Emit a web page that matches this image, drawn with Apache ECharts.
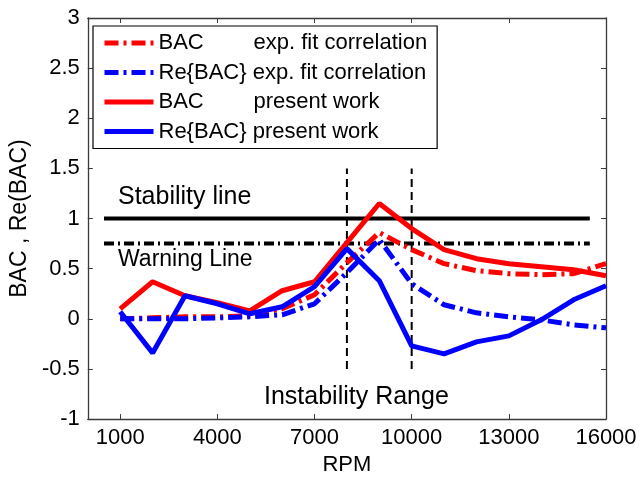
<!DOCTYPE html>
<html>
<head>
<meta charset="utf-8">
<script src="https://cdn.jsdelivr.net/npm/echarts@6/dist/echarts.min.js"></script>
<style>
html,body{margin:0;padding:0;background:#fff;}
#chart{width:641px;height:481px;}
</style>
</head>
<body>
<div id="chart"></div>
<script>
// ---- data ----
const rpm = [1000,2000,3000,4000,5000,6000,7000,8000,9000,10000,11000,12000,13000,14000,15000,16000];
const bacExpFit   = [0.00, 0.01, 0.02, 0.02, 0.03, 0.10, 0.24, 0.56, 0.86, 0.69, 0.55, 0.48, 0.45, 0.44, 0.45, 0.55];
const reBacExpFit = [0.00, 0.00, 0.00, 0.01, 0.02, 0.04, 0.15, 0.46, 0.79, 0.35, 0.14, 0.06, 0.02, -0.01, -0.06, -0.09];
const bacPresent  = [0.10, 0.37, 0.23, 0.16, 0.08, 0.28, 0.37, 0.76, 1.15, 0.90, 0.69, 0.60, 0.55, 0.52, 0.49, 0.43];
const reBacPresent= [0.07, -0.34, 0.23, 0.15, 0.05, 0.12, 0.32, 0.70, 0.38, -0.27, -0.35, -0.23, -0.17, -0.01, 0.19, 0.33];
const xTicks = [1000, 4000, 7000, 10000, 13000, 16000];
const stabilityX = [500, 15500];
const stabilityY = 1;
const warningY = 0.75;
const instabilityX = [8000, 10000];
const instabilityYRange = [-0.5, 1.5];
const seriesNames = ['BAC|exp. fit correlation', 'Re{BAC}|exp. fit correlation', 'BAC|present work', 'Re{BAC}|present work'];

const FONT = "'Liberation Sans', Arial, sans-serif";
const pairs = (ys) => rpm.map((x, i) => [x, ys[i]]);

// rich text cannot hold '}' inside a segment, so close braces are emitted as plain text
function legendLabel(name) {
  const p = name.split('|');
  const head = p[0];
  if (head.indexOf('}') >= 0) {
    const inner = head.slice(0, head.lastIndexOf('}'));
    return '{n|' + inner + '}' + '} ' + '{b|' + p[1] + '}';
  }
  return '{a|' + head + '}{b|' + p[1] + '}';
}

const chart = echarts.init(document.getElementById('chart'), null, {renderer: 'canvas'});
const axisColor = '#3a3a3a';
const dashDot = [14, 5, 3, 5];

chart.setOption({
  animation: false,
  backgroundColor: '#ffffff',
  grid: {left: 85, right: 35, top: 18, bottom: 57, containLabel: false},
  xAxis: [{
    type: 'value', min: 0, max: 16000, position: 'bottom',
    name: 'RPM', nameLocation: 'middle', nameGap: 33,
    nameTextStyle: {fontFamily: FONT, fontSize: 22, color: '#000'},
    axisLine: {show: true, onZero: false, lineStyle: {color: axisColor, width: 1.3}},
    axisTick: {inside: true, length: 5, customValues: xTicks, lineStyle: {color: axisColor}},
    axisLabel: {customValues: xTicks, formatter: (v) => String(v), fontFamily: FONT, fontSize: 22, color: '#000', margin: 8},
    splitLine: {show: false}
  }, {
    type: 'value', min: 0, max: 16000, position: 'top',
    axisLine: {show: true, onZero: false, lineStyle: {color: axisColor, width: 1.3}},
    axisTick: {inside: true, length: 5, customValues: xTicks, lineStyle: {color: axisColor}},
    axisLabel: {show: false},
    splitLine: {show: false}
  }],
  yAxis: [{
    type: 'value', min: -1, max: 3, interval: 0.5, position: 'left',
    name: 'BAC , Re(BAC)', nameLocation: 'middle', nameGap: 48,
    nameTextStyle: {fontFamily: FONT, fontSize: 23, color: '#000'},
    axisLine: {show: true, onZero: false, lineStyle: {color: axisColor, width: 1.3}},
    axisTick: {show: true, inside: true, length: 5, lineStyle: {color: axisColor}},
    axisLabel: {fontFamily: FONT, fontSize: 22, color: '#000', margin: 8},
    splitLine: {show: false}
  }, {
    type: 'value', min: -1, max: 3, interval: 0.5, position: 'right',
    axisLine: {show: true, onZero: false, lineStyle: {color: axisColor, width: 1.3}},
    axisTick: {show: true, inside: true, length: 5, lineStyle: {color: axisColor}},
    axisLabel: {show: false},
    splitLine: {show: false}
  }],
  legend: {
    data: seriesNames,
    orient: 'vertical',
    left: 93, top: 26,
    padding: [6, 10, 6, 9],
    itemGap: 7.5,
    itemWidth: 49, itemHeight: 22,
    borderColor: '#000', borderWidth: 1.2,
    backgroundColor: '#fff',
    selectedMode: false,
    itemStyle: {opacity: 0},
    lineStyle: {width: 5, cap: 'butt'},
    formatter: legendLabel,
    textStyle: {
      fontFamily: FONT, fontSize: 22, color: '#000',
      rich: {
        a: {width: 95, fontFamily: FONT, fontSize: 22, color: '#000'},
        n: {fontFamily: FONT, fontSize: 22, color: '#000'},
        b: {fontFamily: FONT, fontSize: 22, color: '#000'}
      }
    }
  },
  series: [
    {name: seriesNames[0], type: 'line', data: pairs(bacExpFit), symbol: 'none', z: 3,
      lineStyle: {color: '#ff0000', width: 5, type: dashDot, cap: 'butt'}, itemStyle: {color: '#ff0000'}},
    {name: seriesNames[1], type: 'line', data: pairs(reBacExpFit), symbol: 'none', z: 4,
      lineStyle: {color: '#0000ff', width: 5, type: dashDot, cap: 'butt'}, itemStyle: {color: '#0000ff'}},
    {name: seriesNames[2], type: 'line', data: pairs(bacPresent), symbol: 'none', z: 5,
      lineStyle: {color: '#ff0000', width: 5}, itemStyle: {color: '#ff0000'}},
    {name: seriesNames[3], type: 'line', data: pairs(reBacPresent), symbol: 'none', z: 6,
      lineStyle: {color: '#0000ff', width: 5}, itemStyle: {color: '#0000ff'}},
    {name: 'Stability line', type: 'line', symbol: 'none', z: 2,
      data: stabilityX.map(x => [x, stabilityY]),
      lineStyle: {color: '#000', width: 4}},
    {name: 'Warning Line', type: 'line', symbol: 'none', z: 2,
      data: stabilityX.map(x => [x, warningY]),
      lineStyle: {color: '#000', width: 4, type: [10, 4, 2, 4], cap: 'butt'}},
    {name: 'Instability A', type: 'line', symbol: 'none', z: 2,
      data: instabilityYRange.map(y => [instabilityX[0], y]),
      lineStyle: {color: '#000', width: 2, type: [8, 5]}},
    {name: 'Instability B', type: 'line', symbol: 'none', z: 2,
      data: instabilityYRange.map(y => [instabilityX[1], y]),
      lineStyle: {color: '#000', width: 2, type: [8, 5]}}
  ],
  graphic: [
    {type: 'text', left: 118, top: 185, style: {text: 'Stability line', font: '25px ' + FONT, fill: '#000'}},
    {type: 'text', left: 118, top: 248, style: {text: 'Warning Line', font: '23px ' + FONT, fill: '#000'}},
    {type: 'text', left: 264, top: 385, style: {text: 'Instability Range', font: '25px ' + FONT, fill: '#000'}}
  ]
});
</script>
</body>
</html>
